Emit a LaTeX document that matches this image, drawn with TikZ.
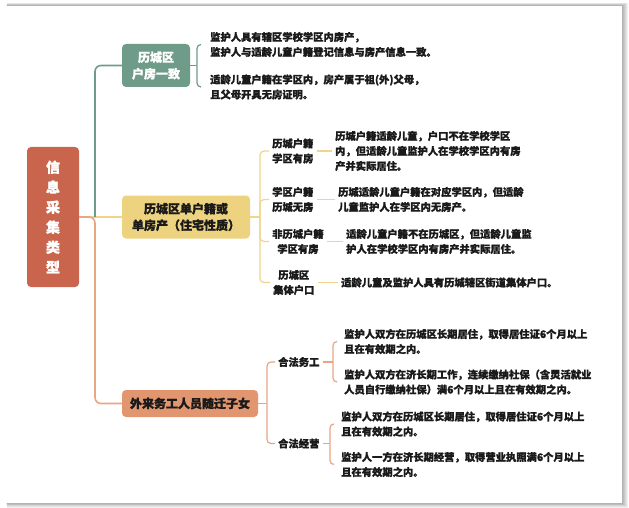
\documentclass[tikz,border=0pt]{standalone}
\usepackage{fontspec}
\setmainfont{Noto Sans CJK SC}[BoldFeatures={FakeBold=1.2}]
\definecolor{cg}{HTML}{6F9C89}
\definecolor{cy}{HTML}{EDD27F}
\definecolor{co}{HTML}{E2966F}
\definecolor{cr}{HTML}{C8654C}
\definecolor{lg}{HTML}{6F9C89}
\definecolor{ly}{HTML}{F1D58A}
\definecolor{lo}{HTML}{E9A584}
\definecolor{tx}{HTML}{1A1A1A}
\tikzset{
  box/.style={rounded corners=4pt, inner sep=0pt, align=center, font=\bfseries\fontsize{12}{16.5}\selectfont},
  desc/.style={anchor=west, align=left, inner ysep=0pt, inner xsep=3pt, text=tx, font=\bfseries\fontsize{10.3}{15}\selectfont},
  sublab/.style={anchor=west, align=center, inner ysep=0pt, inner xsep=3pt, text=tx, font=\bfseries\fontsize{10.3}{15}\selectfont},
  trunk/.style={line width=1.6pt, rounded corners=6pt},
  brk/.style={line width=1.2pt, rounded corners=4pt},
}
\begin{document}
\begin{tikzpicture}[x=1pt,y=-1pt]
\useasboundingbox (0,0) rectangle (629,508);
% card with shadow
\fill[white] (0,0) rectangle (629,508);
\foreach \r in {6,5,4,3,2,1}
  \fill[black,opacity=0.055] (6+\r*0.2,6-\r*0.5) rectangle (622+\r,503+\r*0.8);
\fill[white] (6,6) rectangle (622,503);

% main nodes
\node[box, fill=cr, text=white, minimum width=52pt, minimum height=140pt,
      font=\bfseries\fontsize{14}{20}\selectfont] (root) at (53,217) {信\\息\\采\\集\\类\\型};
\node[box, fill=cg, text=white, minimum width=68pt, minimum height=43pt] (n1) at (156,65.5) {历城区\\户房一致};
\node[box, fill=cy, text=tx, minimum width=128pt, minimum height=43pt] (n2) at (186,217) {历城区单户籍或\\单房产（住宅性质）};
\node[box, fill=co, text=tx, minimum width=136pt, minimum height=27pt] (n3) at (190,403.5) {外来务工人员随迁子女};

\coordinate (t) at (95,217);
\draw[ly, line width=1.6pt] (root.east) -- (n2.west);
\draw[lg, trunk] (t) |- (n1.west);
\draw[lo, trunk] (root.east) -- (t) |- (n3.west);

% branch 1
\node[desc, inner xsep=9pt] (d11) at (201,44.5) {监护人具有辖区学校学区内房产，\\监护人与适龄儿童户籍登记信息与房产信息一致。};
\node[desc, inner xsep=9pt] (d12) at (201,87) {适龄儿童户籍在学区内，房产属于祖(外)父母，\\且父母开具无房证明。};
\coordinate (b1) at (197,65.5);
\draw[lg, brk] (n1.east) -- (b1);
\draw[lg, brk] (b1) |- (d11.west);
\draw[lg, brk] (b1) |- (d12.west);

% branch 2
\coordinate (b2) at (260,217);
\node[sublab] (s1) at (269,151) {历城户籍\\学区有房};
\node[sublab] (s2) at (269,199.5) {学区户籍\\历城无房};
\node[sublab] (s3) at (269,241.5) {非历城户籍\\学区有房};
\node[sublab] (s4) at (270,282.5) {历城区\\集体户口};
\node[desc] (d21) at (332,151) {历城户籍适龄儿童，户口不在学校学区\\内，但适龄儿童监护人在学校学区内有房\\产并实际居住。};
\node[desc] (d22) at (335,199.5) {历城适龄儿童户籍在对应学区内，但适龄\\儿童监护人在学区内无房产。};
\node[desc] (d23) at (343,241.5) {适龄儿童户籍不在历城区，但适龄儿童监\\护人在学校学区内有房产并实际居住。};
\node[desc] (d24) at (338,282.5) {适龄儿童及监护人具有历城辖区街道集体户口。};
\draw[ly, brk] (n2.east) -- (b2);
\foreach \s in {s1,s2,s3,s4} \draw[ly, brk] (b2) |- (\s.west);
\draw[ly, brk] (s1.east) -- (d21.west);
\draw[ly, brk] (s2.east) -- (d22.west);
\draw[ly, brk] (s3.east) -- (d23.west);
\draw[ly, brk] (s4.east) -- (d24.west);

% branch 3
\coordinate (b3) at (267,403.5);
\node[sublab] (s5) at (275,362) {合法务工};
\node[sublab] (s6) at (275,443.5) {合法经营};
\draw[lo, brk] (n3.east) -- (b3);
\draw[lo, brk] (b3) |- (s5.west);
\draw[lo, brk] (b3) |- (s6.west);
\coordinate (c5) at (333,362);
\coordinate (c6) at (330,443.5);
\node[desc, inner xsep=7pt] (d31) at (337,341.5) {监护人双方在历城区长期居住，取得居住证6个月以上\\且在有效期之内。};
\node[desc, inner xsep=7pt] (d32) at (337,382) {监护人双方在济长期工作，连续缴纳社保（含灵活就业\\人员自行缴纳社保）满6个月以上且在有效期之内。};
\node[desc, inner xsep=7pt] (d33) at (334,424) {监护人双方在历城区长期居住，取得居住证6个月以上\\且在有效期之内。};
\node[desc, inner xsep=7pt] (d34) at (334,464.5) {监护人一方在济长期经营，取得营业执照满6个月以上\\且在有效期之内。};
\draw[lo, brk] (s5.east) -- (c5);
\draw[lo, brk] (c5) |- (d31.west);
\draw[lo, brk] (c5) |- (d32.west);
\draw[lo, brk] (s6.east) -- (c6);
\draw[lo, brk] (c6) |- (d33.west);
\draw[lo, brk] (c6) |- (d34.west);
\end{tikzpicture}
\end{document}
